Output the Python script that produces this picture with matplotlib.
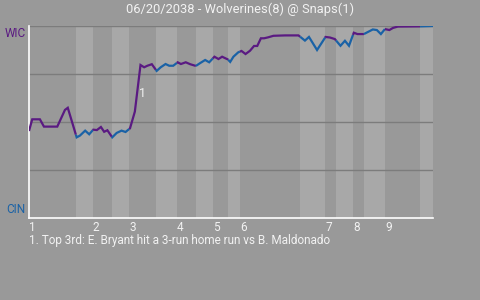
"""
Win probability chart: Wolverines @ Snaps, 06/20/2038.
"""

import numpy as np
import matplotlib
matplotlib.use("Agg")
import matplotlib.pyplot as plt

plt.rcParams['font.family'] = ['Roboto', 'DejaVu Sans']

# game progress (0-100) and Wolverines win probability (%) for each event
event_x = [0.0, 0.8, 2.7, 3.7, 7.0, 8.9, 9.6, 11.8, 12.6, 13.9,
           14.9, 15.9, 16.8, 17.8, 18.6, 19.4, 20.6, 21.7, 22.9, 23.9,
           25.0, 26.2, 27.6, 28.5, 29.3, 30.4, 31.6, 32.6, 33.8, 34.7,
           35.7, 36.8, 37.6, 38.8, 39.9, 41.3, 42.3, 43.6, 44.6, 45.9,
           46.9, 47.8, 49.2, 49.8, 50.6, 51.8, 52.6, 53.6, 54.7, 55.7,
           56.5, 57.4, 58.2, 59.2, 60.5, 63.4, 66.7, 68.3, 69.3, 71.3,
           73.4, 74.5, 75.7, 77.1, 78.2, 79.2, 80.4, 81.3, 82.9, 83.9,
           85.1, 86.1, 87.1, 88.1, 89.2, 90.1, 91.3, 96.8, 100.0]
win_prob = [45.3, 51.4, 51.4, 47.6, 47.6, 56.3, 57.4, 42.0, 42.9, 45.5,
            43.6, 46.0, 45.8, 47.4, 44.9, 45.7, 42.0, 44.3, 45.5, 44.8,
            46.7, 55.4, 79.7, 78.5, 79.3, 80.1, 76.6, 78.5, 80.2, 79.3,
            79.3, 81.1, 80.2, 81.1, 80.1, 79.2, 80.6, 82.3, 81.1, 84.0,
            82.8, 84.0, 82.6, 81.3, 84.0, 86.3, 87.0, 85.4, 87.1, 89.6,
            89.6, 93.6, 93.6, 94.1, 94.9, 95.1, 95.1, 92.4, 94.3, 87.5,
            94.3, 94.0, 93.2, 89.7, 92.3, 89.7, 96.5, 95.8, 95.8, 96.9,
            98.2, 97.9, 95.8, 98.4, 97.9, 99.0, 99.7, 99.8, 100.0]

# start of each half inning (top 1st ... bottom 9th) and the game end
half_starts = [0.0, 11.6, 15.8, 20.5, 24.8, 31.4, 36.6, 41.3, 45.5, 49.3,
               52.2, 67.1, 73.3, 76.0, 80.2, 82.9, 88.1, 96.8, 100.0]
innings = ['1', '2', '3', '4', '5', '6', '7', '8', '9']

title = "06/20/2038 - Wolverines(8) @ Snaps(1)"
away_abbr, home_abbr = "WIC", "CIN"
note_event = 22
note_text = "1. Top 3rd: E. Bryant hit a 3-run home run vs B. Maldonado"

away_color = '#5a1a82'
home_color = '#1a62a6'
bg = '#999999'
band = '#a8a8a8'
light_text = '#f2f2f2'

fig = plt.figure(figsize=(4.8, 3.0), dpi=100, facecolor=bg)
ax = fig.add_axes([29 / 480, 82 / 300, 404 / 480, 192 / 300])
ax.set_facecolor(bg)
ax.set_xlim(0, 100)
ax.set_ylim(0, 100)

x = np.array(event_x)
y = np.array(win_prob)

# bottom halves get a lighter band
for i in range(len(half_starts) - 1):
    lo, hi = half_starts[i], half_starts[i + 1]
    if i % 2 == 1:
        ax.axvspan(lo, hi, color=band, lw=0, zorder=0)

for gy in [25, 50, 75, 100]:
    ax.axhline(gy, color='#7c7c7c', lw=1.0, zorder=1)

# line split at half-inning edges, coloured by the batting team
for i in range(len(half_starts) - 1):
    lo, hi = half_starts[i], half_starts[i + 1]
    inside = (x > lo) & (x < hi)
    seg_x = np.concatenate([[lo], x[inside], [hi]])
    seg_y = np.interp(seg_x, x, y)
    color = away_color if i % 2 == 0 else home_color
    ax.plot(seg_x, seg_y, color=color, lw=1.6, zorder=3,
            solid_capstyle='butt', solid_joinstyle='miter')

ax.text(event_x[note_event] + 0.5, 65, "1", color=light_text, fontsize=9,
        ha='center', va='center', zorder=4)

for s in ['top', 'right']:
    ax.spines[s].set_visible(False)
for s in ['left', 'bottom']:
    ax.spines[s].set_color('white')
    ax.spines[s].set_linewidth(1.2)

ax.set_yticks([])
ax.set_xticks(half_starts[0:-1:2])
ax.set_xticklabels(innings, ha='left', color=light_text, fontsize=8.5)
ax.tick_params(axis='x', length=0, pad=2)

ax.text(-0.008, 0.995, away_abbr, transform=ax.transAxes, ha='right',
        va='top', color=away_color, fontsize=8.5)
ax.text(-0.008, 0.01, home_abbr, transform=ax.transAxes, ha='right',
        va='bottom', color=home_color, fontsize=8.5)

fig.text(0.5, 0.97, title, ha='center', va='center', color=light_text,
         fontsize=9.3)
fig.text(29 / 480, 0.197, note_text, ha='left', va='center',
         color=light_text, fontsize=8.5)

fig.savefig('out.png', dpi=100, facecolor=bg)
